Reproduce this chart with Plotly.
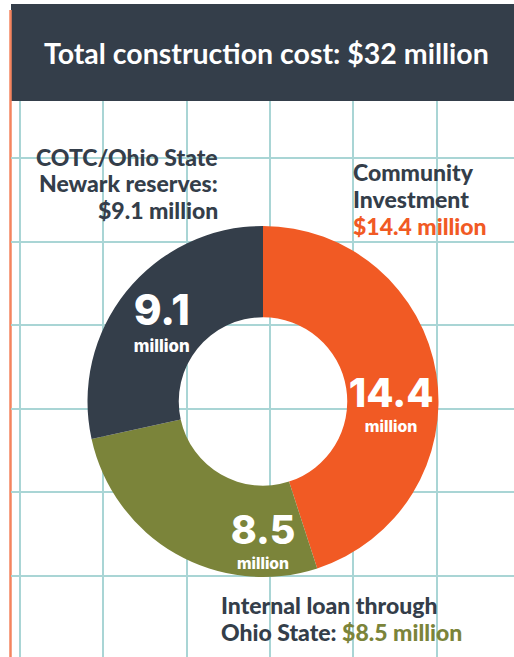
import plotly.graph_objects as go

# ---- data ----
categories = ["Community Investment", "Internal loan through Ohio State", "COTC/Ohio State Newark reserves"]
values_million = [14.4, 8.5, 9.1]
slice_colors = ["#f15a24", "#7b843a", "#343e4a"]
title_text = "Total construction cost: $32 million"

W, H = 514, 657
DARK = "#343e4a"
GRID = "#a9d5d5"
LABEL_FONT = dict(family="Lato, Open Sans, sans-serif", size=23, color=DARK, weight=900)

fig = go.Figure()

# background cartesian axes used only for the grid
fig.add_trace(go.Scatter(x=[], y=[], showlegend=False, hoverinfo="skip"))

inside_text = [
    f"<span style='font-size:45px'>{v}</span><br><span style='font-size:18px'>million</span>"
    for v in values_million
]

fig.add_trace(go.Pie(
    labels=categories,
    values=values_million,
    sort=False,
    direction="clockwise",
    rotation=0,
    hole=0.48,
    marker=dict(colors=slice_colors, line=dict(width=0)),
    text=inside_text,
    textinfo="text",
    textposition="inside",
    insidetextorientation="horizontal",
    insidetextfont=dict(family="Inter, Roboto, sans-serif", size=22, color="white", weight=800),
    domain=dict(x=[(263 - 175.5) / W, (263 + 175.5) / W],
                y=[(H - 401.5 - 175.5) / H, (H - 401.5 + 175.5) / H]),
    showlegend=False,
    hoverinfo="label+value",
))

shapes = [
    # header bar
    dict(type="rect", xref="paper", yref="paper", x0=11 / W, x1=1, y0=1 - 101 / H, y1=1 - 4 / H,
         fillcolor=DARK, line=dict(width=0), layer="below"),
    # orange vertical rule
    dict(type="line", xref="paper", yref="paper", x0=10.5 / W, x1=10.5 / W, y0=0, y1=1 - 10 / H,
         line=dict(color="#f4845f", width=2.5), layer="below"),
]

annotations = [
    dict(text=f"<b>{title_text}</b>", xref="paper", yref="paper", x=266 / W, y=1 - 53 / H,
         xanchor="center", yanchor="middle", showarrow=False,
         font=dict(family="Lato, Open Sans, sans-serif", size=28.5, color="white")),
]


def add_lines(lines, x, ys, xanchor):
    for txt, yy in zip(lines, ys):
        annotations.append(dict(text=txt, xref="paper", yref="paper", x=x / W, y=1 - yy / H,
                                xanchor=xanchor, yanchor="middle", showarrow=False,
                                font=LABEL_FONT))


add_lines(["COTC/Ohio State", "Newark reserves:", "$9.1 million"], 220, [157, 183.5, 210], "right")
add_lines(["Community", "Investment", "<span style='color:#f15a24'>$14.4 million</span>"],
          351, [172, 199, 226], "left")
add_lines(["Internal loan through",
           "Ohio State: <span style='color:#7b843a'>$8.5 million</span>"], 219, [605, 632], "left")

fig.update_layout(
    width=W, height=H,
    margin=dict(l=0, r=0, t=0, b=0),
    paper_bgcolor="white", plot_bgcolor="white",
    xaxis=dict(range=[11, W], domain=[11 / W, 1], showgrid=True, gridcolor=GRID, gridwidth=2,
               tick0=20, dtick=83.3, zeroline=False, showticklabels=False, ticks="", fixedrange=True),
    yaxis=dict(range=[H, 101], domain=[0, 1 - 101 / H], showgrid=True, gridcolor=GRID, gridwidth=2,
               tick0=158, dtick=83.5, zeroline=False, showticklabels=False, ticks="", fixedrange=True),
    shapes=shapes,
    annotations=annotations,
)

fig.write_html("out.html", config={"displayModeBar": False},
               post_script="document.body.style.margin='0';document.body.style.overflow='hidden';")
